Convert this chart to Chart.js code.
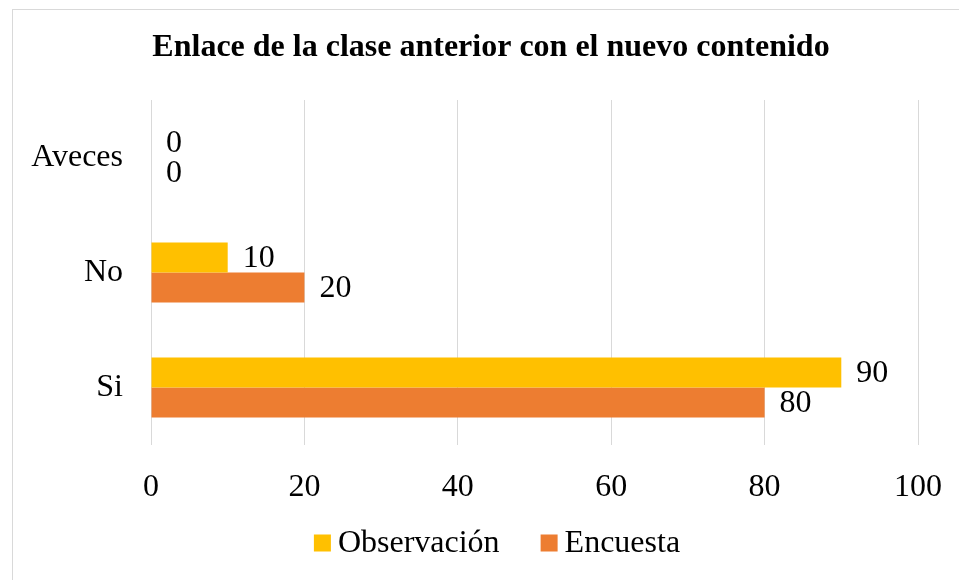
<!DOCTYPE html>
<html lang="es">
  <head>
    <meta charset="UTF-8" />
    <title>Enlace de la clase anterior con el nuevo contenido</title>
    <style>
      body { margin: 0; background: #fff; overflow: hidden; }
      #box {
        position: absolute;
        left: 12px;
        top: 9px;
        border-left: 1px solid #d9d9d9;
        border-top: 1px solid #d9d9d9;
      }
      canvas { display: block; }
    </style>
  </head>
  <body>
    <div id="box"><canvas id="myChart" width="947" height="570"></canvas></div>

    <script src="https://cdn.jsdelivr.net/npm/chart.js@4/dist/chart.umd.min.js"></script>
    <script>
      const chartTitle = "Enlace de la clase anterior con el nuevo contenido";
      const categories = ["Aveces", "No", "Si"];
      const observacion = [0, 10, 90];
      const encuesta = [0, 20, 80];
      const xTicks = [0, 20, 40, 60, 80, 100];

      const serif = "'Times New Roman', 'Liberation Serif', serif";

      // title drawn by hand, it sits a bit right of the canvas middle
      const topTitle = {
        id: "topTitle",
        afterDraw(chart) {
          const ctx = chart.ctx;
          ctx.save();
          ctx.font = "bold 32px " + serif;
          ctx.fillStyle = "#000";
          ctx.textAlign = "center";
          ctx.textBaseline = "middle";
          ctx.fillText(chartTitle, 478, 38);
          ctx.restore();
        }
      };

      // value labels to the right of each bar
      const barLabels = {
        id: "barLabels",
        afterDatasetsDraw(chart) {
          const ctx = chart.ctx;
          ctx.save();
          ctx.font = "32px " + serif;
          ctx.fillStyle = "#000";
          ctx.textAlign = "left";
          ctx.textBaseline = "middle";
          chart.data.datasets.forEach((ds, i) => {
            chart.getDatasetMeta(i).data.forEach((bar, j) => {
              ctx.fillText(String(ds.data[j]), bar.x + 15, bar.y + 1);
            });
          });
          ctx.restore();
        }
      };

      // legend drawn like the office one: small square, tight text
      const bottomLegend = {
        id: "bottomLegend",
        afterDraw(chart) {
          const ctx = chart.ctx;
          ctx.save();
          ctx.font = "32px " + serif;
          ctx.textBaseline = "middle";
          const box = 17;
          const items = chart.data.datasets.map(ds => ({
            text: ds.label,
            color: ds.backgroundColor,
            w: box + 7 + ctx.measureText(ds.label).width
          }));
          const gap = 41;
          const total = items.reduce((s, it) => s + it.w, 0) + gap * (items.length - 1);
          let x = 484 - total / 2;
          const y = 533;
          items.forEach(it => {
            ctx.fillStyle = it.color;
            ctx.fillRect(x, y - box / 2, box, box);
            ctx.fillStyle = "#000";
            ctx.fillText(it.text, x + box + 7, y + 1);
            x += it.w + gap;
          });
          ctx.restore();
        }
      };

      const ctx = document.getElementById("myChart").getContext("2d");
      const chart = new Chart(ctx, {
        type: "bar",
        data: {
          labels: categories,
          datasets: [
            {
              label: "Observación",
              backgroundColor: "#FFC000",
              data: observacion
            },
            {
              label: "Encuesta",
              backgroundColor: "#ED7D31",
              data: encuesta
            }
          ]
        },
        options: {
          indexAxis: "y",
          responsive: false,
          animation: false,
          categoryPercentage: 0.522,
          barPercentage: 1,
          layout: { padding: { left: 0, right: 42, top: 90, bottom: 75 } },
          plugins: {
            legend: { display: false },
            tooltip: { enabled: false },
            title: { display: false }
          },
          scales: {
            x: {
              min: 0,
              max: 100,
              afterBuildTicks: scale => {
                scale.ticks = xTicks.map(v => ({ value: v }));
              },
              afterFit: scale => {
                scale.height = 60;
                scale.paddingLeft = 0;
                scale.paddingRight = 0;
              },
              grid: { color: "#d9d9d9", lineWidth: 1, drawTicks: false },
              border: { display: false },
              ticks: {
                color: "#000",
                padding: 23,
                font: { family: serif, size: 32 }
              }
            },
            y: {
              afterFit: scale => { scale.width = 138; },
              grid: { display: false, drawTicks: false },
              border: { display: false },
              ticks: {
                color: "#000",
                padding: 28,
                font: { family: serif, size: 32 }
              }
            }
          }
        },
        plugins: [topTitle, barLabels, bottomLegend]
      });
    </script>
  </body>
</html>
